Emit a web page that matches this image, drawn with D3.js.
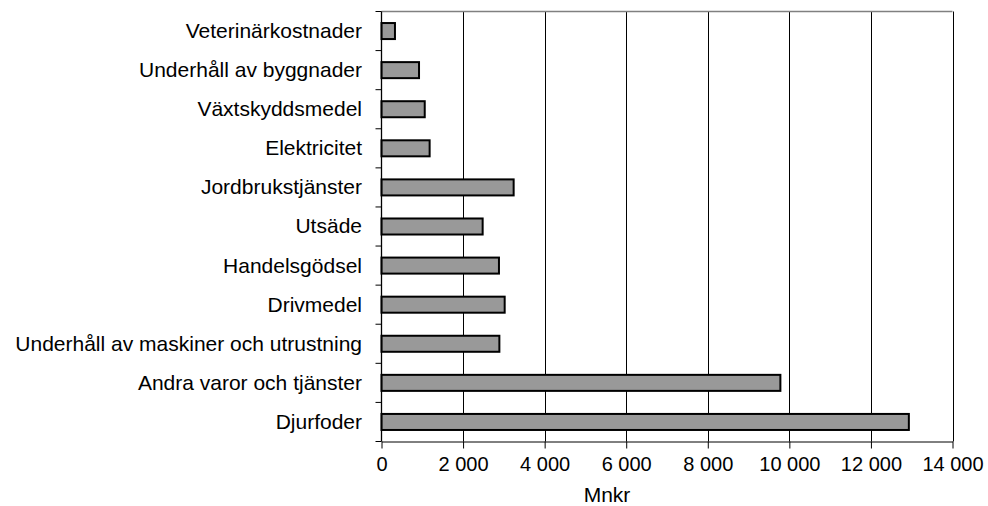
<!DOCTYPE html>
<html>
<head>
<meta charset="utf-8">
<script src="https://cdn.jsdelivr.net/npm/d3@7"></script>
<style>
  body { margin: 0; background: #fff; }
  svg text { font-family: "Liberation Sans", Arial, sans-serif; fill: #000; }
</style>
</head>
<body>
<div id="chart"></div>
<script>
// kostnader, top to bottom as drawn
const categories = [
  'Veterinärkostnader',
  'Underhåll av byggnader',
  'Växtskyddsmedel',
  'Elektricitet',
  'Jordbrukstjänster',
  'Utsäde',
  'Handelsgödsel',
  'Drivmedel',
  'Underhåll av maskiner och utrustning',
  'Andra varor och tjänster',
  'Djurfoder'
];
const values = [330, 920, 1060, 1180, 3240, 2480, 2880, 3020, 2890, 9780, 12930];
const xTicks = [0, 2000, 4000, 6000, 8000, 10000, 12000, 14000];
const xTitle = 'Mnkr';

const w = 988;
const h = 506;
const plotLeft = 381.5, plotRight = 952.5, plotTop = 11.5, plotBottom = 441.5;

const data = categories.map((c, i) => ({ name: c, value: values[i] }));

const svg = d3.select('#chart')
  .append('svg')
  .attr('width', w)
  .attr('height', h);

const xScale = d3.scaleLinear()
  .domain([0, 14000])
  .range([plotLeft, plotRight]);

const yScale = d3.scaleBand()
  .domain(categories)
  .range([plotTop, plotBottom])
  .paddingInner(0.59)
  .paddingOuter(0.295);

const yEdge = d3.scaleBand().domain(categories).range([plotTop, plotBottom]);

const fmt = d3.formatLocale({ decimal: ',', thousands: '\u00a0', grouping: [3], currency: ['', ' kr'] }).format(',d');

// gridlines
svg.append('g')
  .selectAll('line')
  .data(xTicks.slice(1))
  .enter()
  .append('line')
  .attr('x1', d => Math.round(xScale(d)) + 0.5)
  .attr('x2', d => Math.round(xScale(d)) + 0.5)
  .attr('y1', plotTop)
  .attr('y2', plotBottom)
  .attr('stroke', '#000')
  .attr('stroke-width', 1);

// plot frame top
svg.append('line')
  .attr('x1', plotLeft).attr('x2', plotRight)
  .attr('y1', plotTop).attr('y2', plotTop)
  .attr('stroke', '#808080').attr('stroke-width', 1.5);

// bars
svg.selectAll('rect.bar')
  .data(data)
  .enter()
  .append('rect')
  .attr('class', 'bar')
  .attr('x', xScale(0))
  .attr('y', d => yScale(d.name))
  .attr('width', d => xScale(d.value) - xScale(0))
  .attr('height', yScale.bandwidth())
  .attr('fill', '#999999')
  .attr('stroke', '#000')
  .attr('stroke-width', 2);

// x axis
const xAxis = d3.axisBottom(xScale)
  .tickValues(xTicks)
  .tickFormat(fmt)
  .tickSizeInner(7)
  .tickSizeOuter(0)
  .tickPadding(8);

const gx = svg.append('g')
  .attr('transform', `translate(0, ${plotBottom})`)
  .call(xAxis);
gx.selectAll('text').style('font-size', '20px');
gx.selectAll('line, path').attr('stroke', '#000');

// y axis (ticks between categories)
const yAxisLine = svg.append('g');
yAxisLine.append('line')
  .attr('x1', plotLeft).attr('x2', plotLeft)
  .attr('y1', plotTop).attr('y2', plotBottom)
  .attr('stroke', '#000').attr('stroke-width', 1.3);
yAxisLine.selectAll('line.tick')
  .data(categories)
  .enter()
  .append('line')
  .attr('class', 'tick')
  .attr('x1', plotLeft - 6).attr('x2', plotLeft)
  .attr('y1', d => yEdge(d)).attr('y2', d => yEdge(d))
  .attr('stroke', '#000');
yAxisLine.append('line')
  .attr('x1', plotLeft - 6).attr('x2', plotLeft)
  .attr('y1', plotBottom).attr('y2', plotBottom)
  .attr('stroke', '#000');

svg.append('g')
  .selectAll('text')
  .data(categories)
  .enter()
  .append('text')
  .attr('x', plotLeft - 19.5)
  .attr('y', d => yScale(d) + yScale.bandwidth() / 2)
  .attr('dy', '0.33em')
  .attr('text-anchor', 'end')
  .style('font-size', '21px')
  .text(d => d);

svg.append('text')
  .attr('x', 607)
  .attr('y', 502)
  .attr('text-anchor', 'middle')
  .style('font-size', '21px')
  .text(xTitle);
</script>
</body>
</html>
